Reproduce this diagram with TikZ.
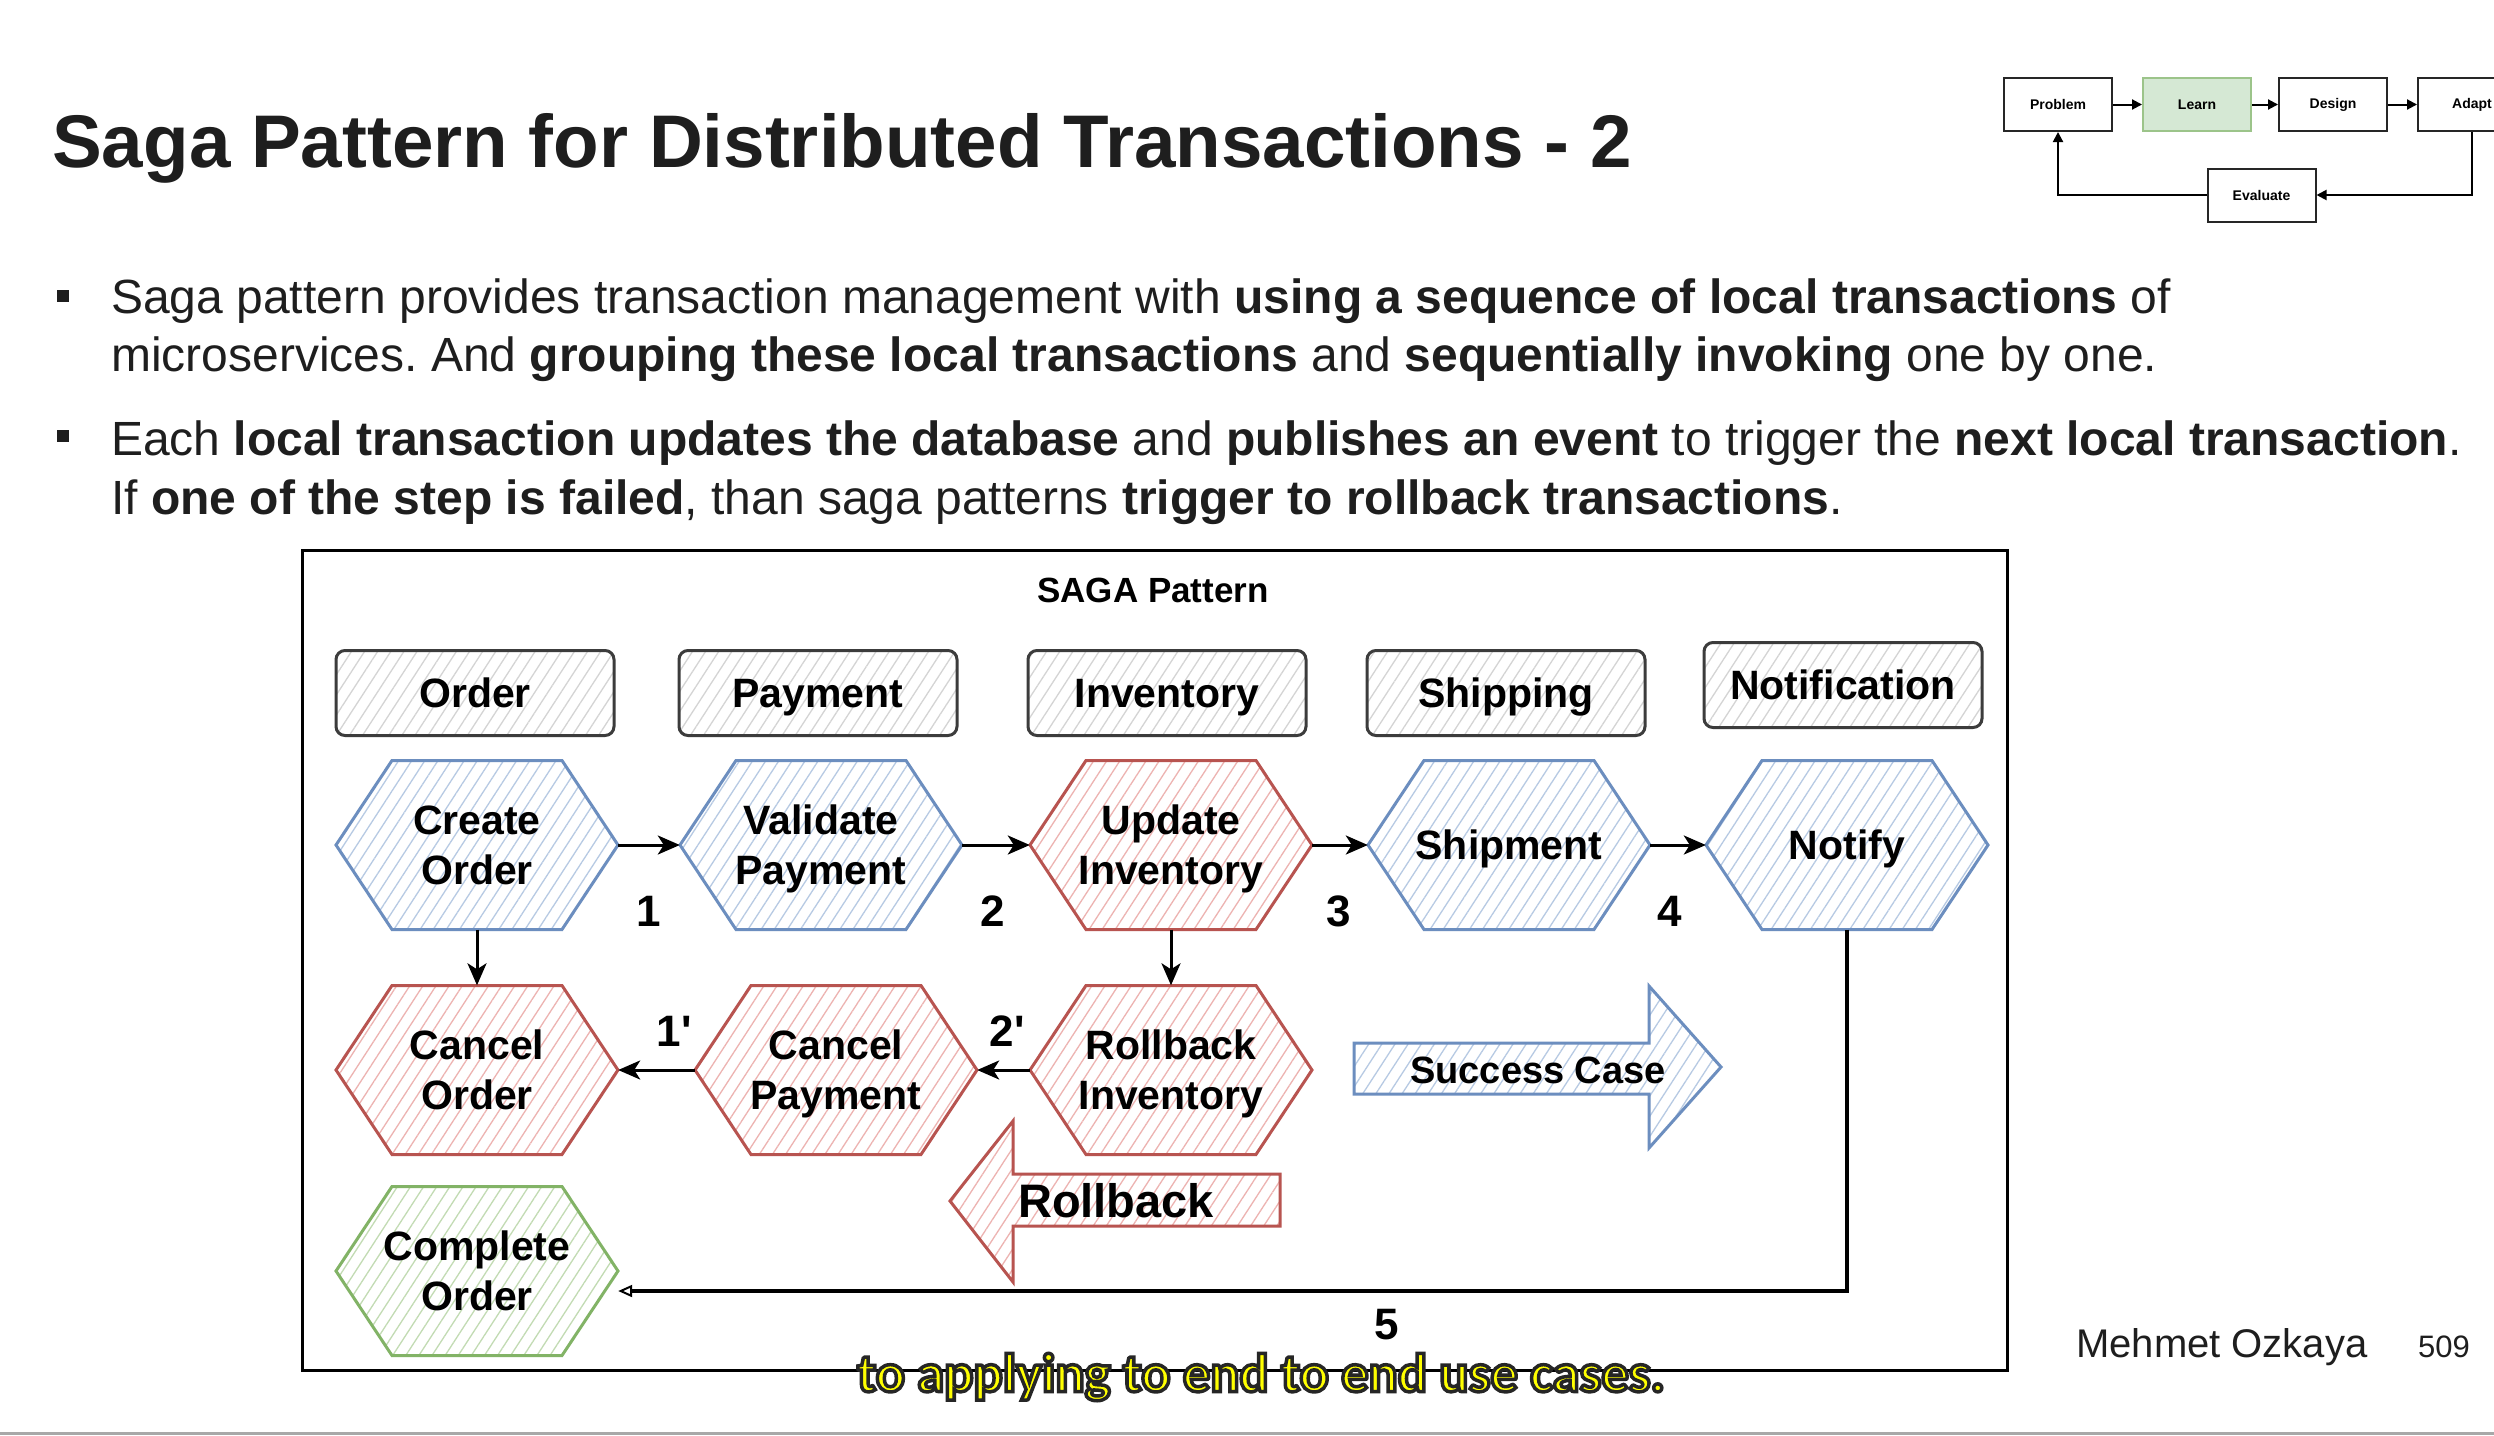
\documentclass[tikz,border=0pt]{standalone}
\usepackage{fontspec}
\setmainfont{Liberation Sans}
\newfontfamily\captionfont{Carlito}
\usetikzlibrary{arrows.meta,patterns.meta,calc}

\definecolor{hexblue}{HTML}{6C8EBF}
\definecolor{hatchblue}{HTML}{B7CAE3}
\definecolor{hexred}{HTML}{B85450}
\definecolor{hatchred}{HTML}{EDB3B1}
\definecolor{hexgreen}{HTML}{82B366}
\definecolor{hatchgreen}{HTML}{C2DBB3}
\definecolor{boxgray}{HTML}{3C3C3C}
\definecolor{hatchgray}{HTML}{D4D4D4}
\definecolor{learnfill}{HTML}{D5E8D4}
\definecolor{learnline}{HTML}{9CC48A}
\definecolor{inkdark}{HTML}{1E1E1E}
\definecolor{capyellow}{HTML}{FFFF00}
\definecolor{rulegray}{HTML}{A8A8A8}

\newcommand\fs[2]{\fontsize{#1}{#2}\selectfont}
\newcommand\qt{\textquotesingle}

% hexagon: [node options] name, x, y, face style, label
\newcommand\hexnode[6][]{%
  \path[#5] (#3,#4) ++(-141,0) -- ++(56,-84.5) -- ++(170,0) -- ++(56,84.5)
     -- ++(-56,84.5) -- ++(-170,0) -- cycle;
  \node[hexbody,#1] (#2) at (#3,#4) {#6};}

\begin{document}
\frenchspacing
\begin{tikzpicture}[x=1pt,y=-1pt,
  hexbody/.style={minimum width=282pt,minimum height=169pt,inner sep=0pt,
    align=center,font=\bfseries\fs{41}{50},text=black,
    text height=79.4pt,text depth=-4pt},
  oneline/.style={text height=29.5pt,text depth=-6pt},
  hatch/.style={pattern={Lines[angle=57,distance=11pt,line width=1.3pt]}},
  blueface/.style={draw=hexblue,line width=3pt,hatch,pattern color=hatchblue},
  redface/.style={draw=hexred,line width=3pt,hatch,pattern color=hatchred},
  greenface/.style={draw=hexgreen,line width=3pt,hatch,pattern color=hatchgreen},
  hdrbox/.style={draw=boxgray,line width=3pt,rounded corners=9pt,
    minimum width=278pt,minimum height=85pt,inner sep=0pt,
    text height=29.5pt,text depth=-5pt,
    font=\bfseries\fs{41}{50},hatch,pattern color=hatchgray},
  flow/.style={line width=3pt,-{Stealth[length=22pt,width=19pt,inset=6pt]}},
  steplabel/.style={font=\bfseries\fs{44}{50},inner sep=0pt},
  mini/.style={draw=black!85,line width=2pt,minimum width=108pt,minimum height=53pt,
    inner sep=0pt,font=\bfseries\fs{14}{16}},
  miniflow/.style={line width=2pt,-{Triangle[length=10pt,width=10pt]}},
  bodytext/.style={anchor=base west,inner sep=0pt,font=\fs{48}{57},text=inkdark},
]
\path[use as bounding box] (0,0) rectangle (2494,1435);
\clip (0,0) rectangle (2494,1435);
\fill[white] (0,0) rectangle (2494,1435);

% ---- slide title and bullets ----
\node[anchor=base west,inner sep=0pt,font=\bfseries\fs{74.6}{80},text=inkdark] (title)
  at (52,167) {Saga Pattern for Distributed Transactions - 2};

\fill[inkdark] (57,290) rectangle (69,302);
\fill[inkdark] (57,430) rectangle (69,442);
\node[bodytext] (b1a) at (111,313) {Saga pattern provides transaction management with \textbf{using a sequence of local transactions} of};
\node[bodytext] (b1b) at (111,371) {microservices. And \textbf{grouping these local transactions} and \textbf{sequentially invoking} one by one.};
\node[bodytext] (b2a) at (111,455) {Each \textbf{local transaction updates the database} and \textbf{publishes an event} to trigger the \textbf{next local transaction}.};
\node[bodytext] (b2b) at (111,514) {If \textbf{one of the step is failed}, than saga patterns \textbf{trigger to rollback transactions}.};

% ---- learning path, top right ----
\node[mini] (mProb) at (2058,104.5) {Problem};
\node[mini,fill=learnfill,draw=learnline] (mLearn) at (2197,104.5) {Learn};
\node[mini] (mDesign) at (2333,104.5) {Design};
\node[mini] (mAdapt) at (2472,104.5) {Adapt};
\node[mini] (mEval) at (2261.5,195) {Evaluate};
\draw[miniflow] (mProb) -- (mLearn);
\draw[miniflow] (mLearn) -- (mDesign);
\draw[miniflow] (mDesign) -- (mAdapt);
\draw[miniflow] (mAdapt.south) |- (mEval.east);
\draw[miniflow] (mEval.west) -| (mProb.south);

% ---- SAGA diagram ----
\draw[line width=3pt,black] (302,550) rectangle (2007,1370);
\node[font=\bfseries\fs{35}{40}] (sagatitle) at (1153,590) {SAGA Pattern};

\node[hdrbox] (hOrder) at (475,693) {Order};
\node[hdrbox] (hPay) at (818,693) {Payment};
\node[hdrbox] (hInv) at (1167,693) {Inventory};
\node[hdrbox] (hShip) at (1506,693) {Shipping};
\node[hdrbox] (hNote) at (1843,685) {Notification};

\hexnode{creOrd}{477}{845}{blueface}{Create\\Order}
\hexnode{valPay}{821}{845}{blueface}{Validate\\Payment}
\hexnode{updInv}{1171}{845}{redface}{Update\\Inventory}
\hexnode[oneline]{ship}{1509}{845}{blueface}{Shipment}
\hexnode[oneline]{notify}{1847}{845}{blueface}{Notify}

\hexnode{canOrd}{477}{1070}{redface}{Cancel\\Order}
\hexnode{canPay}{836}{1070}{redface}{Cancel\\Payment}
\hexnode{rbInv}{1171}{1070}{redface}{Rollback\\Inventory}

\hexnode{comOrd}{477}{1271}{greenface}{Complete\\Order}

% forward steps
\draw[flow] (creOrd) -- (valPay);
\draw[flow] (valPay) -- (updInv);
\draw[flow] (updInv) -- (ship);
\draw[flow] (ship) -- (notify);
\node[steplabel] (l1) at (649,911) {1};
\node[steplabel] (l2) at (993,911) {2};
\node[steplabel] (l3) at (1339,911) {3};
\node[steplabel] (l4) at (1670,911) {4};

% compensation steps
\draw[flow] (creOrd) -- (canOrd);
\draw[flow] (updInv) -- (rbInv);
\draw[flow] (rbInv) -- (canPay);
\draw[flow] (canPay) -- (canOrd);
\node[steplabel] (l1p) at (674,1031) {1\qt};
\node[steplabel] (l2p) at (1007,1031) {2\qt};

% completion
\coordinate (c5) at (1847,1291);
\draw[line width=3.5pt,-{Triangle[open,length=14pt,width=12pt,line width=2pt]}]
  (notify.south) -- (c5) -- (comOrd.east |- c5);
\node[steplabel] (l5) at (1387,1325) {5};

% success case arrow
\path[draw=hexblue,line width=3pt,hatch,pattern color=hatchblue]
  (1354,1043) -- (1649,1043) -- (1649,986) -- (1721,1067) -- (1649,1148)
  -- (1649,1094) -- (1354,1094) -- cycle;
\node[font=\bfseries\fs{38}{44}] (succ) at (1538,1070) {Success Case};

% rollback arrow
\path[draw=hexred,line width=3pt,hatch,pattern color=hatchred]
  (1280,1174) -- (1013,1174) -- (1013,1121) -- (950,1201) -- (1013,1282)
  -- (1013,1226) -- (1280,1226) -- cycle;
\node[font=\bfseries\fs{47}{52}] (rb) at (1116,1201) {Rollback};

% ---- footer ----
\node[anchor=base west,inner sep=0pt,font=\fs{40}{44},text=inkdark] (author) at (2076,1357) {Mehmet Ozkaya};
\node[anchor=base west,inner sep=0pt,font=\fs{31}{36},text=inkdark] (page) at (2418,1357) {509};
\draw[rulegray,line width=3pt] (0,1433) -- (2494,1433);

% ---- caption ----
\node[font=\captionfont\bfseries\fs{54.5}{58},text=capyellow,inner sep=0pt] (caption) at (1261,1377)
  {\special{pdf:literal direct 2 Tr 3.5 w 0.15 0.15 0.15 RG}to applying to end to end use cases.\special{pdf:literal direct 0 Tr}};
\end{tikzpicture}
\end{document}
